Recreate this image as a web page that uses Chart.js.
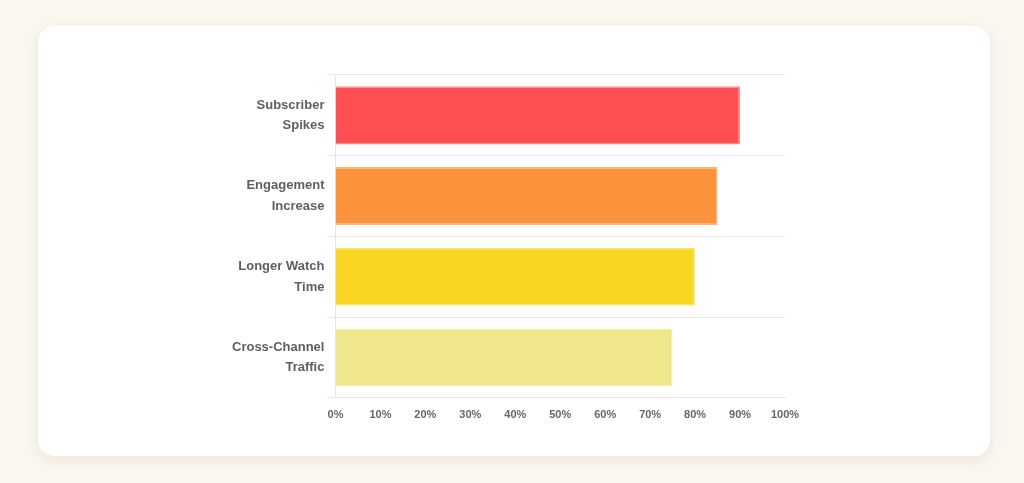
<!DOCTYPE html>
<html>
<head>
<meta charset="utf-8">
<script src="https://cdn.jsdelivr.net/npm/chart.js@4"></script>
<style>
  html, body {
    margin: 0;
    padding: 0;
    width: 1024px;
    height: 483px;
    background: #fbf7ef;
    overflow: hidden;
  }

  .card {
    position: absolute;
    left: 38px;
    top: 26px;
    width: 952px;
    height: 430px;
    background: #ffffff;
    border-radius: 16px;
    box-shadow: 0 4px 14px rgba(120, 100, 60, 0.12);
  }

  .card canvas {
    display: block;
  }
</style>
</head>
<body>
<div class="card">
  <canvas id="graficoEfeitos" width="952" height="430"></canvas>
</div>

<script>
const categorias = [
  ["Subscriber", "Spikes"],
  ["Engagement", "Increase"],
  ["Longer Watch", "Time"],
  ["Cross-Channel", "Traffic"]
];
const valores = [90, 85, 80, 75];
const cores = ["#ff4f52", "#fb923c", "#f9d624", "#f0e68c"];
const bordas = ["#ff8a8c", "#fcb677", "#fbe36d", "#f5eeb0"];
const ticksX = [0, 10, 20, 30, 40, 50, 60, 70, 80, 90, 100];

const fonte = "'Liberation Sans', Arial, Helvetica, sans-serif";

new Chart(document.getElementById("graficoEfeitos"), {
  type: "bar",
  data: {
    labels: categorias,
    datasets: [
      {
        data: valores,
        backgroundColor: cores,
        borderColor: bordas,
        borderWidth: 1.5,
        borderSkipped: "left"
      }
    ]
  },
  options: {
    indexAxis: "y",
    responsive: false,
    animation: false,
    layout: {
      padding: { top: 49, right: 205, bottom: 31, left: 191 }
    },
    plugins: {
      legend: { display: false },
      tooltip: { enabled: false }
    },
    scales: {
      x: {
        min: 0,
        max: 100,
        afterBuildTicks: (axis) => {
          axis.ticks = ticksX.map((v) => ({ value: v }));
        },
        grid: { display: false },
        border: { display: true, color: "#e6e6e6" },
        ticks: {
          color: "#666666",
          font: { family: fonte, size: 11, weight: "bold" },
          callback: (v) => v + "%"
        }
      },
      y: {
        grid: {
          offset: true,
          color: "#e8e8e8",
          tickLength: 8
        },
        border: { display: true, color: "#e6e6e6" },
        ticks: {
          color: "#606060",
          font: { family: fonte, size: 13, weight: "bold", lineHeight: 1.6 }
        }
      }
    }
  }
});
</script>
</body>
</html>
